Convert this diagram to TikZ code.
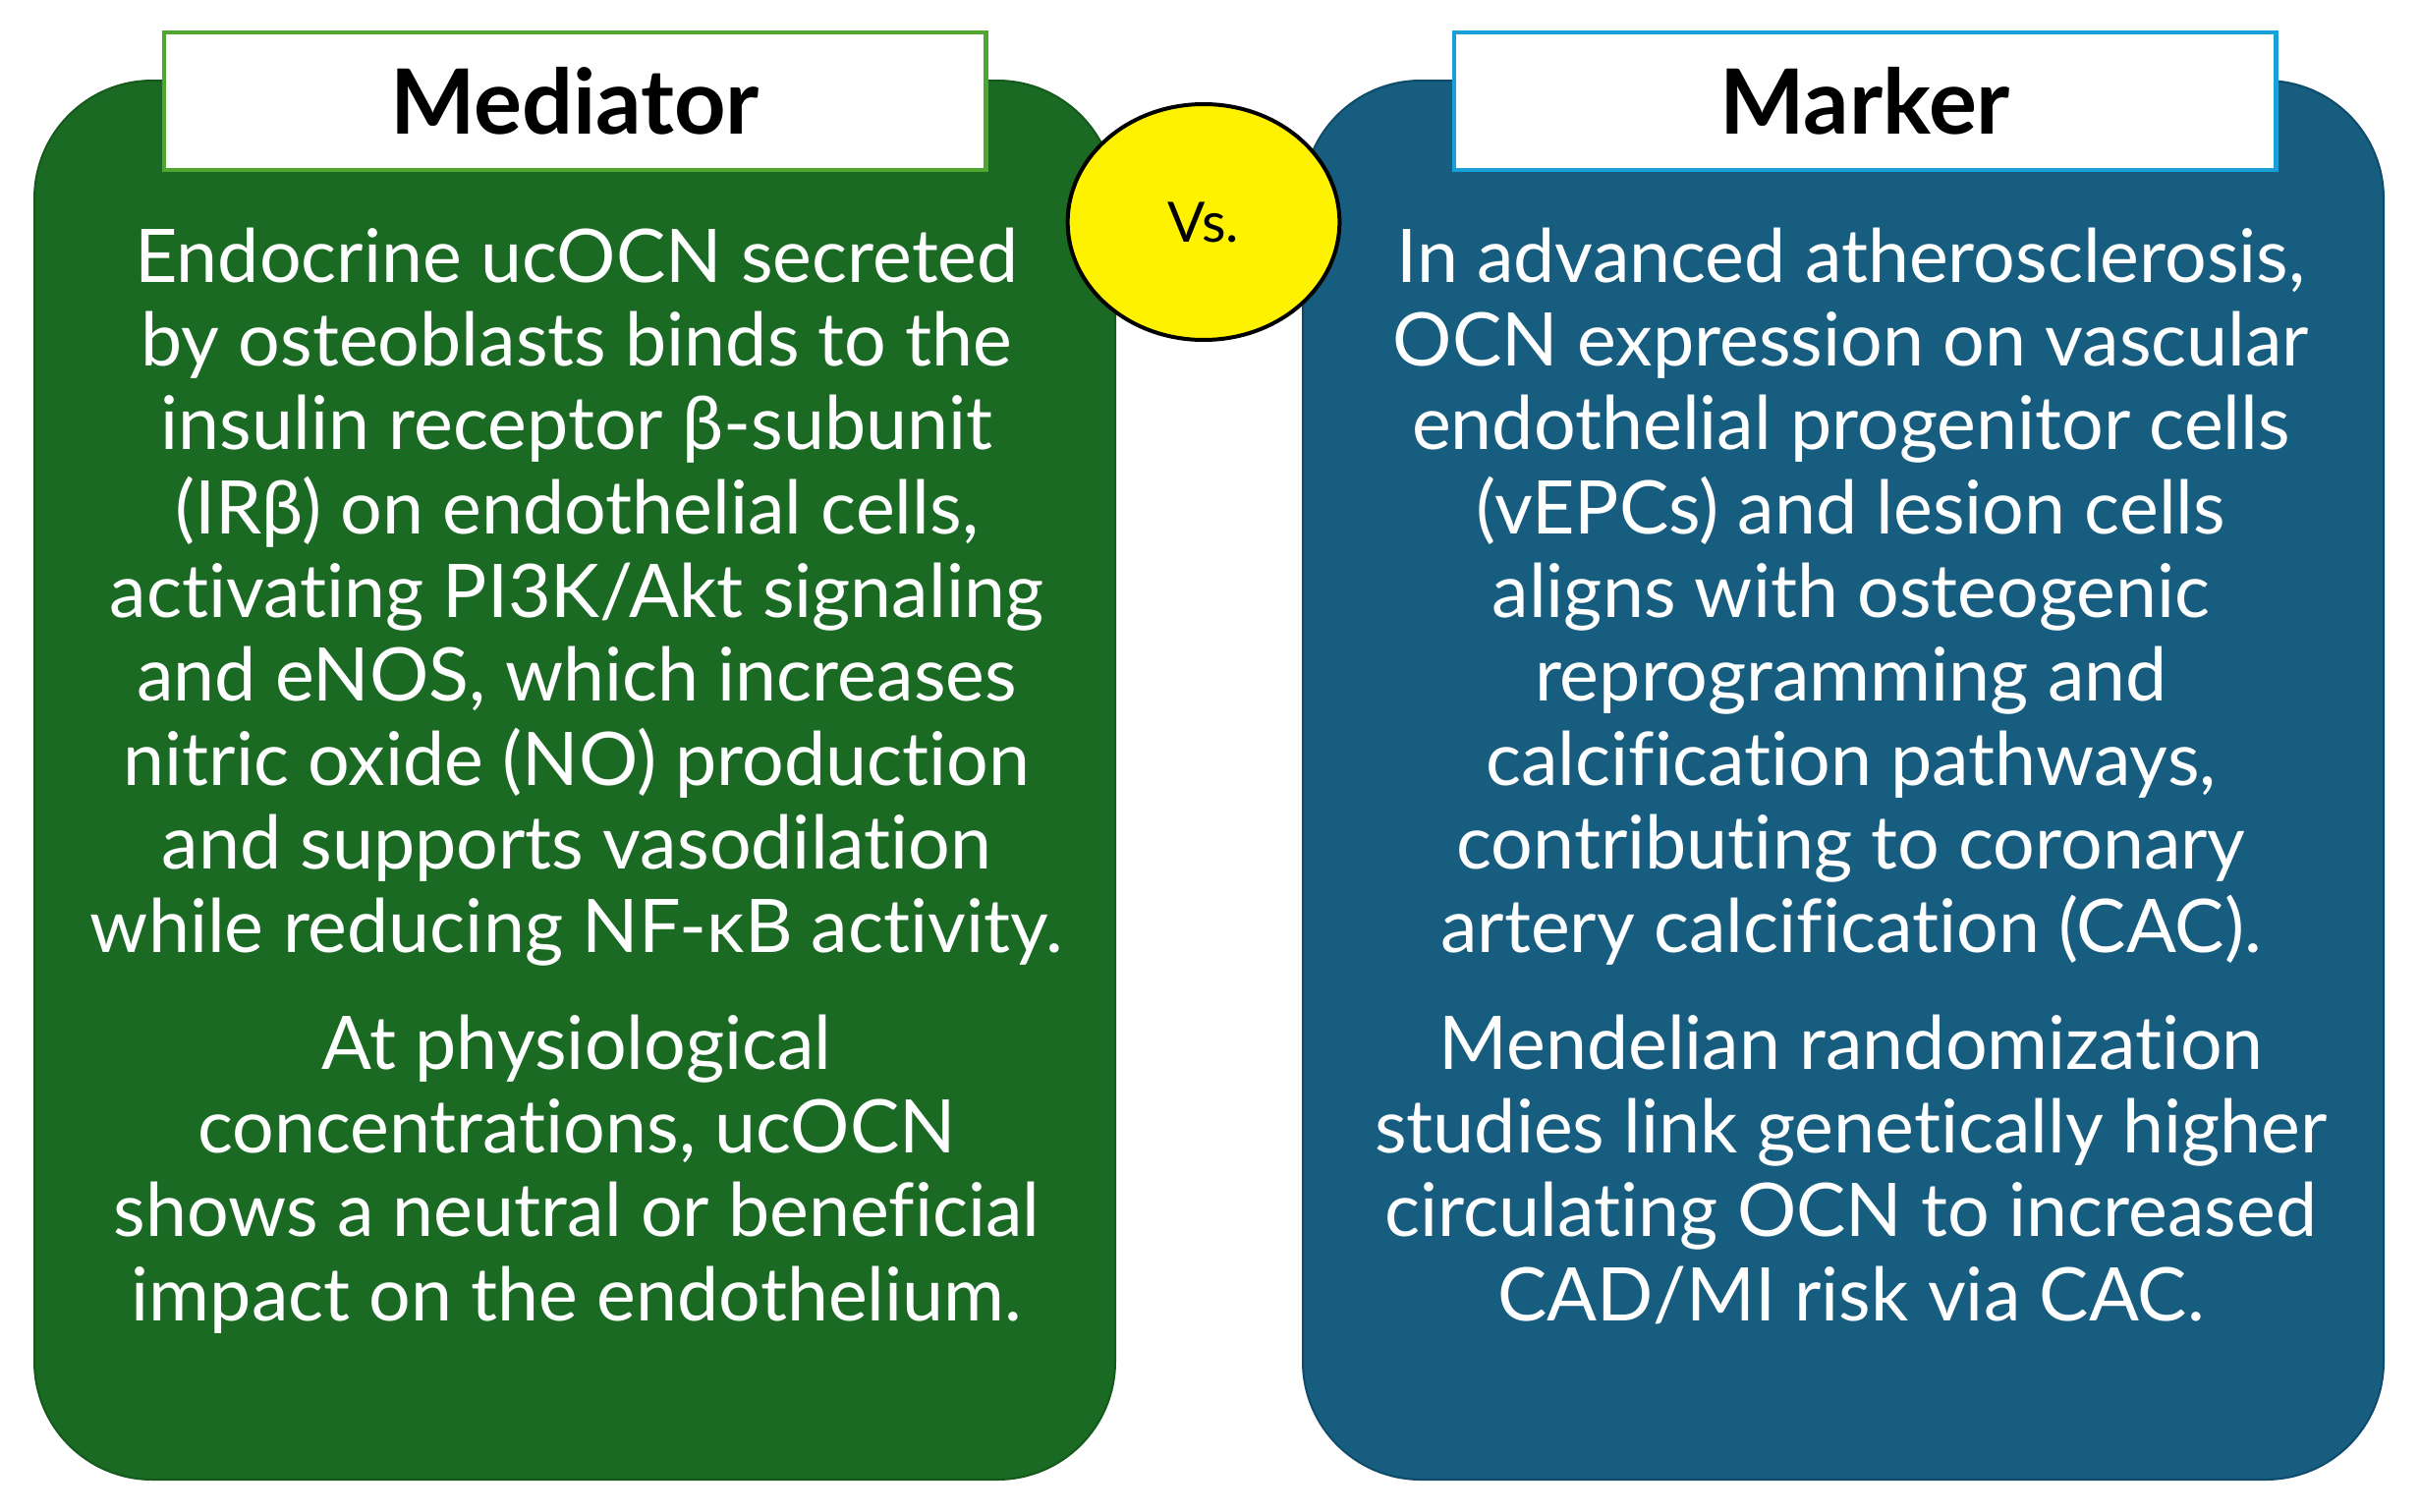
\documentclass[tikz,border=0pt]{standalone}
\usepackage{fontspec}
\setmainfont{Lato}[Ligatures=NoCommon]
\usetikzlibrary{shapes.geometric}
\definecolor{medgreen}{HTML}{1B6A24}
\definecolor{medgreendark}{HTML}{145A1C}
\definecolor{markblue}{HTML}{165D80}
\definecolor{markbluedark}{HTML}{0F4C6C}
\definecolor{hdgreen}{HTML}{4EA72E}
\definecolor{hdblue}{HTML}{1AA0D8}
\tikzset{
  panel/.style={rounded corners=36pt, line width=0.6pt},
  hdbox/.style={draw, fill=white, line width=1.3pt, minimum width=251pt, minimum height=42pt, inner sep=0pt},
  hdtext/.style={font=\fontsize{27.5}{32}\selectfont\bfseries},
  bodytext/.style={text=white, align=center, font=\fontsize{22.6}{25.6}\selectfont, inner sep=0pt},
  vsnode/.style={ellipse, draw=black, fill=yellow, line width=1.2pt, minimum width=83pt, minimum height=72pt, inner sep=0pt, font=\fontsize{17}{20}\selectfont}
}
\begin{document}
\begin{tikzpicture}[x=0.3pt,y=-0.3pt]
\useasboundingbox (0,0) rectangle (2462,1539);
% panels
\path[panel, fill=medgreen, draw=medgreendark] (35,82) rectangle (1135,1506);
\path[panel, fill=markblue, draw=markbluedark] (1326,82) rectangle (2426,1506);
% headers
\node[hdbox, draw=hdgreen] (medhead) at (585,103) {};
\node[hdtext] (medtitle) at (medhead.center) {Mediator};
\node[hdbox, draw=hdblue] (markhead) at (1898,103) {};
\node[hdtext] (marktitle) at (markhead.center) {Marker};
% vs
\node[vsnode] (vs) at (1225,226) {Vs.};
% left body
\node[bodytext, anchor=north] (medp1) at (587,231) {Endocrine ucOCN secreted\\
by osteoblasts binds to the\\
insulin receptor β-subunit\\
(IRβ) on endothelial cells,\\
activating PI3K/Akt signaling\\
and eNOS, which increases\\
nitric oxide (NO) production\\
and supports vasodilation\\
while reducing NF-κB activity.};
\node[bodytext, anchor=north] (medp2) at (587,1032) {At physiological\\
concentrations, ucOCN\\
shows a neutral or beneficial\\
impact on the endothelium.};
% right body
\node[bodytext, anchor=north] (markp1) at (1884,231) {In advanced atherosclerosis,\\
OCN expression on vascular\\
endothelial progenitor cells\\
(vEPCs) and lesion cells\\
aligns with osteogenic\\
reprogramming and\\
calcification pathways,\\
contributing to coronary\\
artery calcification (CAC).};
\node[bodytext, anchor=north] (markp2) at (1884,1032) {Mendelian randomization\\
studies link genetically higher\\
circulating OCN to increased\\
CAD/MI risk via CAC.};
\end{tikzpicture}
\end{document}
